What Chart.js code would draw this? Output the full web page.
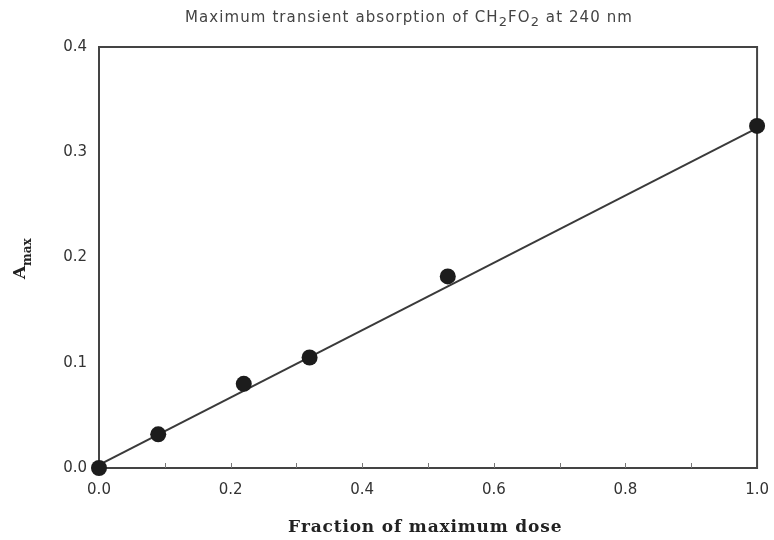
<!DOCTYPE html>
<html>
<head>
<meta charset="utf-8">
<script src="https://cdn.jsdelivr.net/npm/chart.js@4.4.1/dist/chart.umd.min.js"></script>
<style>
  html, body { margin: 0; padding: 0; background: #ffffff; }
  #wrap { width: 774px; height: 540px; }
</style>
</head>
<body>
<div id="wrap"><canvas id="c" width="774" height="540"></canvas></div>
<script>
// Measured points
const doseFraction = [0, 0.09, 0.22, 0.32, 0.53, 1.0];
const aMax = [0, 0.032, 0.080, 0.105, 0.182, 0.325];

// Least-squares line end points
const fitX = [0, 1.0];
const fitY = [0.003, 0.323];

// Axis ticks
const xTicks = [0, 0.2, 0.4, 0.6, 0.8, 1.0];
const yTicks = [0, 0.1, 0.2, 0.3, 0.4];
const xMinorTicks = [0.1, 0.2, 0.3, 0.4, 0.5, 0.6, 0.7, 0.8, 0.9];

const titleParts = [
  { t: 'Maximum transient absorption of CH', sub: false },
  { t: '2', sub: true },
  { t: 'FO', sub: false },
  { t: '2', sub: true },
  { t: ' at 240 nm', sub: false }
];
const xTitle = 'Fraction of maximum dose';
const yTitleMain = 'A';
const yTitleSub = 'max';

const points = doseFraction.map((x, i) => ({ x, y: aMax[i] }));
const fitLine = fitX.map((x, i) => ({ x, y: fitY[i] }));

// Text helper: runs of normal / subscript text stretched to a given width
function drawRuns(ctx, runs, cx, cy, size, subSize, targetWidth, color) {
  ctx.save();
  ctx.fillStyle = color;
  ctx.textBaseline = 'middle';
  ctx.textAlign = 'left';
  let w = 0, n = 0;
  runs.forEach(r => {
    ctx.font = (r.sub ? subSize : size) + 'px "DejaVu Sans"';
    w += ctx.measureText(r.t).width;
    n += r.t.length;
  });
  const ls = (targetWidth - w) / n;
  let x = cx - targetWidth / 2;
  runs.forEach(r => {
    ctx.font = (r.sub ? subSize : size) + 'px "DejaVu Sans"';
    for (const ch of r.t) {
      ctx.fillText(ch, x, r.sub ? cy + 5 : cy);
      x += ctx.measureText(ch).width + ls;
    }
  });
  ctx.restore();
}

function drawSpaced(ctx, text, cx, cy, font, targetWidth, color) {
  ctx.save();
  ctx.font = font;
  ctx.fillStyle = color;
  ctx.textBaseline = 'middle';
  ctx.textAlign = 'left';
  const w = ctx.measureText(text).width;
  const ls = (targetWidth - w) / text.length;
  let x = cx - targetWidth / 2;
  for (const ch of text) {
    ctx.fillText(ch, x, cy);
    x += ctx.measureText(ch).width + ls;
  }
  ctx.restore();
}

const decorations = {
  id: 'decorations',
  beforeDatasetsDraw(chart) {
    const { ctx, chartArea: a, scales } = chart;
    ctx.save();
    // frame
    ctx.strokeStyle = '#444';
    ctx.lineWidth = 2;
    ctx.strokeRect(a.left, a.top, a.right - a.left, a.bottom - a.top);
    // small inward ticks on the bottom edge
    ctx.lineWidth = 1;
    ctx.strokeStyle = '#777';
    xMinorTicks.forEach(v => {
      const px = Math.round(scales.x.getPixelForValue(v)) + 0.5;
      ctx.beginPath();
      ctx.moveTo(px, a.bottom);
      ctx.lineTo(px, a.bottom - 5);
      ctx.stroke();
    });
    ctx.restore();
  },
  afterDraw(chart) {
    const { ctx } = chart;
    // chart title
    drawRuns(ctx, titleParts, 409, 18, 15, 13, 448, '#444');
    // x axis title
    drawSpaced(ctx, xTitle, 425, 528, 'bold 17px "DejaVu Serif"', 274, '#222');
    // y axis title, rotated
    ctx.save();
    ctx.translate(22, 272);
    ctx.rotate(-Math.PI / 2);
    ctx.fillStyle = '#222';
    ctx.textBaseline = 'middle';
    ctx.textAlign = 'left';
    ctx.font = 'bold 17px "DejaVu Serif"';
    ctx.fillText(yTitleMain, -7, -1);
    ctx.font = 'bold 12px "DejaVu Serif"';
    ctx.fillText(yTitleSub, 6, 6);
    ctx.restore();
  }
};

new Chart(document.getElementById('c'), {
  type: 'scatter',
  data: {
    datasets: [
      {
        type: 'line',
        data: fitLine,
        borderColor: '#3a3a3a',
        borderWidth: 2,
        pointRadius: 0,
        fill: false,
        tension: 0,
        order: 2
      },
      {
        data: points,
        pointRadius: 8,
        pointHoverRadius: 8,
        backgroundColor: '#1c1c1c',
        borderColor: '#1c1c1c',
        borderWidth: 0,
        clip: false,
        order: 1
      }
    ]
  },
  options: {
    responsive: false,
    animation: false,
    layout: { padding: { left: 0, top: 47, right: 10, bottom: 0 } },
    plugins: { legend: { display: false }, tooltip: { enabled: false } },
    scales: {
      x: {
        type: 'linear',
        min: 0, max: 1,
        afterBuildTicks(s) { s.ticks = xTicks.map(v => ({ value: v })); },
        afterFit(s) { s.height = 72; },
        grid: { display: false },
        border: { display: false },
        ticks: {
          callback: v => v.toFixed(1),
          font: { family: '"DejaVu Sans"', size: 15 },
          color: '#333',
          padding: 5,
          maxRotation: 0
        }
      },
      y: {
        min: 0, max: 0.4,
        afterBuildTicks(s) { s.ticks = yTicks.map(v => ({ value: v })); },
        afterFit(s) { s.width = 99; },
        grid: { display: false },
        border: { display: false },
        ticks: {
          callback: v => v.toFixed(1),
          font: { family: '"DejaVu Sans"', size: 15 },
          color: '#333',
          padding: 4
        }
      }
    }
  },
  plugins: [decorations]
});
</script>
</body>
</html>
